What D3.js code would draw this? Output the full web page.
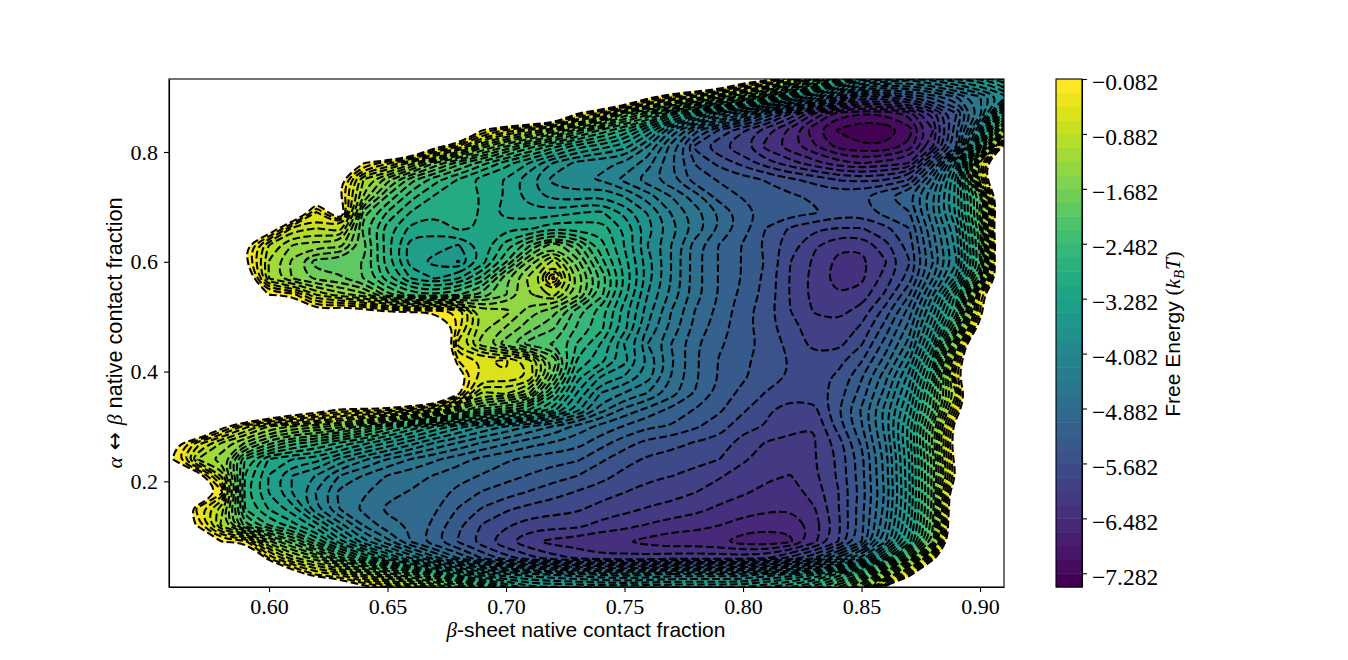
<!DOCTYPE html>
<html>
<head>
<meta charset="utf-8">
<script src="https://cdn.jsdelivr.net/npm/d3@7"></script>
<style>
  html, body { margin: 0; background: #fff; }
  .tick text { font-family: "Liberation Serif", serif; font-size: 22px; fill: #000; }
  .bar-axis .tick text { font-size: 23.5px; }
  .label { font-family: "Liberation Sans", sans-serif; font-size: 21px; fill: #000; }
  .greek { font-family: "Liberation Serif", serif; font-style: italic; }
  .plain { font-family: "Liberation Serif", serif; }
  .arrow { font-family: "DejaVu Sans", sans-serif; }
</style>
</head>
<body>
<svg id="chart" width="1348" height="660"></svg>
<script>
const W = 1348, H = 660;
const LEFT = 169, RIGHT = 1004, TOP = 79, BOTTOM = 587;

const xTicks = [0.60, 0.65, 0.70, 0.75, 0.80, 0.85, 0.90];
const yTicks = [0.2, 0.4, 0.6, 0.8];
const barTicks = [-0.082, -0.882, -1.682, -2.482, -3.282, -4.082, -4.882, -5.682, -6.482, -7.282];

// levels every 0.2 kT, lowest to highest
const levels = d3.range(38).map(k => +(-7.482 + 0.2 * k).toFixed(3));

// grid node positions
const gridX = d3.range(38).map(k => +(0.55 + 0.01 * k).toFixed(2));
const gridY = d3.range(33).map(k => +(0.96 - 0.03 * k).toFixed(2));

// free energy at each node. 1.5 = outside the filled area
const energy = [
[1.5,1.5,1.5,1.5,1.5,1.5,1.5,1.5,1.5,1.5,1.5,1.5,1.5,1.5,1.5,1.5,1.5,1.5,1.5,1.5,1.5,1.5,1.5,1.5,1.5,1.5,1.5,1.5,.5,-.8,-1.8,-2.2,-2.4,-2.4,-2.2,-2,-1.5,-.5],
[1.5,1.5,1.5,1.5,1.5,1.5,1.5,1.5,1.5,1.5,1.5,1.5,1.5,1.5,1.5,1.5,1.5,1.5,1.5,1.5,1.5,1.5,1.5,1.5,1.5,.3,-.1,-1,-2.2,-3.2,-4,-4.2,-4.3,-4.1,-3.8,-3.6,-3.2,-2.2],
[1.5,1.5,1.5,1.5,1.5,1.5,1.5,1.5,1.5,1.5,1.5,1.5,1.5,1.5,1.5,1.5,1.5,1.5,1.5,1.5,1.5,.1,-.45,-.9,-1.6,-2.1,-2.8,-3.6,-4.3,-5.1,-5.8,-5.7,-5.5,-5.2,-4.9,-4.5,-4,-3.2],
[1.5,1.5,1.5,1.5,1.5,1.5,1.5,1.5,1.5,1.5,1.5,1.5,1.5,1.5,1.5,1.5,1.5,1.5,-.08,-.6,-1.7,-2.2,-3,-3.5,-4.2,-4.6,-5.3,-5.9,-6.5,-7,-7.08,-7.05,-6.8,-6.2,-5.5,-4.6,-2.7,-1.5],
[1.5,1.5,1.5,1.5,1.5,1.5,1.5,1.5,1.5,1.5,1.5,1.5,1.5,1.5,-.08,-.5,-.9,-1.3,-2,-2.5,-2.9,-3.5,-4.3,-5,-5.5,-5.85,-6.2,-6.55,-7.05,-7.3,-7.48,-7.42,-7.2,-6.5,-5.3,-3.8,-1.4,1],
[1.5,1.5,1.5,1.5,1.5,1.5,1.5,1.5,1.5,1.5,1.5,1.5,.1,-.5,-1.4,-1.9,-2.4,-2.8,-3.2,-3.4,-3.6,-4.1,-4.8,-5.55,-5.85,-6.05,-6.35,-6.6,-6.85,-7.15,-7.25,-7.25,-7,-6.3,-5.3,-3,.1,1.5],
[1.5,1.5,1.5,1.5,1.5,1.5,1.5,1.5,.5,-.08,-.4,-1,-1.7,-2.2,-2.6,-3,-3.3,-3.7,-3.95,-4.05,-4.1,-4.4,-4.85,-5.3,-5.55,-5.75,-6,-6.2,-6.4,-6.6,-6.7,-6.6,-6.5,-5.4,-4,-.7,1.5,1.5],
[1.5,1.5,1.5,1.5,1.5,1.5,1.5,1.5,0,-1.1,-1.6,-2.2,-2.6,-2.9,-3.2,-3.3,-3.65,-3.95,-4.05,-4.1,-4.35,-4.6,-4.85,-5.2,-5.3,-5.4,-5.5,-5.65,-5.75,-5.9,-5.95,-5.9,-5.7,-4.8,-3.6,-.7,1.5,1.5],
[1.5,1.5,1.5,1.5,1.5,1.5,1.5,.2,-.05,-1.3,-2.1,-2.6,-2.9,-2.95,-3.1,-3.3,-3.6,-3.75,-3.8,-3.7,-3.9,-4.2,-4.5,-4.8,-5.2,-5.3,-5.4,-5.45,-5.52,-5.55,-5.5,-5.3,-5.1,-4.5,-3.6,-2.2,1.2,1.5],
[1.5,1.5,1.5,1.5,1.5,1.5,.8,-.5,.4,-2,-2.5,-2.9,-3.05,-3,-3.1,-3.4,-3.4,-3.4,-3.3,-3.25,-3.55,-3.9,-4.3,-4.6,-4.9,-5.2,-5.35,-5.4,-5.45,-5.58,-5.6,-5.4,-5.3,-4.5,-3.6,-2,1,1.5],
[1.5,1.5,1.5,1.5,1.5,.3,-.8,-.9,-.8,-2.2,-2.8,-3.15,-3.2,-3.05,-3.1,-3.1,-3.1,-2.9,-2.95,-2.95,-3.3,-3.8,-4.2,-4.55,-4.9,-5.2,-5.5,-5.72,-5.85,-5.9,-5.9,-5.75,-5.5,-4.7,-3.9,-2.3,1.5,1.5],
[1.5,1.5,1.5,1,-.05,-.9,-1.3,-1.4,-1.4,-2,-2.8,-3.4,-3.4,-3.5,-3.2,-2.8,-2.3,-1.7,-2.2,-2.8,-3.3,-3.9,-4.3,-4.8,-5.1,-5.3,-5.55,-5.8,-6.05,-6.25,-6.25,-5.95,-5.6,-4.8,-4,-2.4,1.2,1.5],
[1.5,1.5,1.5,1.5,0,-1.1,-1.55,-2,-1.98,-2.1,-2.8,-3.4,-3.55,-3.7,-3.2,-2.5,-1.6,-1,-1.8,-2.6,-3.2,-3.8,-4.3,-4.8,-5.1,-5.3,-5.5,-5.88,-6.12,-6.33,-6.34,-6.1,-5.7,-4.9,-4.1,-2.5,1.5,1.5],
[1.5,1.5,1.5,1.5,.4,-1.1,-1.5,-1.75,-1.85,-2.1,-2.6,-3.1,-3.3,-3.1,-2.6,-1.7,-1.2,-.2,-1.5,-2.3,-3.1,-3.8,-4.3,-4.8,-5.1,-5.3,-5.55,-5.9,-6.15,-6.38,-6.33,-6,-5.6,-4.7,-3.8,-2.1,1,1.5],
[1.5,1.5,1.5,1.5,1.5,-.1,-.15,-.9,-1.2,-1.4,-2,-2.4,-2.45,-2.3,-2,-1.7,-1.3,-1,-1.6,-2.4,-3.2,-3.9,-4.35,-4.8,-5.1,-5.35,-5.55,-5.9,-6.15,-6.28,-6.2,-5.85,-5.3,-4.3,-3,-.4,1.5,1.5],
[1.5,1.5,1.5,1.5,1.5,1.5,1,0,.3,.1,-.1,-.2,-.2,-.3,-1.2,-1.2,-1.6,-1.8,-2.4,-2.8,-3.4,-4,-4.5,-4.9,-5.15,-5.4,-5.6,-5.88,-6.1,-6.15,-6,-5.6,-5,-4,-2.8,-.3,1.5,1.5],
[1.5,1.5,1.5,1.5,1.5,1.5,1.5,1.5,1.5,1.5,1.5,1.5,1.5,-.4,-1.2,-1.5,-1.8,-2.05,-2.5,-2.8,-3.4,-4.1,-4.55,-4.95,-5.2,-5.4,-5.6,-5.8,-6,-6.02,-5.85,-5.4,-4.8,-3.7,-2.2,.2,1.5,1.5],
[1.5,1.5,1.5,1.5,1.5,1.5,1.5,1.5,1.5,1.5,1.5,1.5,1,-.8,-1.4,-1.8,-2.2,-2.3,-2.7,-3.1,-3.7,-4.3,-4.7,-5.05,-5.25,-5.4,-5.55,-5.75,-5.95,-5.95,-5.7,-5.2,-4.6,-3.4,-1.2,1.5,1.5,1.5],
[1.5,1.5,1.5,1.5,1.5,1.5,1.5,1.5,1.5,1.5,1.5,1.5,1.5,-.3,-.5,-.45,-.8,-1.7,-2.9,-3.2,-3.6,-4.1,-4.65,-5.05,-5.3,-5.45,-5.55,-5.7,-5.8,-5.75,-5.5,-5,-4.3,-3,-.6,1.5,1.5,1.5],
[1.5,1.5,1.5,1.5,1.5,1.5,1.5,1.5,1.5,1.5,1.5,1.5,1.5,.2,-.6,-.5,-.7,-2,-3.2,-3.7,-3.9,-4.2,-4.7,-5.05,-5.3,-5.45,-5.6,-5.7,-5.75,-5.65,-5.3,-4.75,-4,-2.7,-.3,1.5,1.5,1.5],
[1.5,1.5,1.5,1.5,1.5,1.5,1.5,1.5,1.5,1.5,1.5,1.5,1.5,0,-1.15,-1.05,-1.5,-2.6,-3.5,-4.1,-4.3,-4.5,-4.8,-5.1,-5.35,-5.55,-5.7,-5.8,-5.78,-5.6,-5.2,-4.6,-3.8,-2.4,-.9,1.5,1.5,1.5],
[1.5,1.5,1.5,1.5,1.5,1,.5,.2,-.15,-.2,-.25,-.6,-.9,-1.7,-2.2,-2.4,-2.7,-3.2,-3.8,-4.4,-4.75,-4.95,-5.15,-5.3,-5.45,-5.65,-5.85,-5.98,-5.95,-5.5,-5.05,-4.4,-3.6,-2.3,-.4,1.5,1.5,1.5],
[1.5,1.5,1.5,.1,-.6,-1.1,-1.3,-1.4,-1.6,-2,-2.5,-2.9,-3.3,-3.6,-3.9,-4.1,-4.3,-4.5,-4.75,-4.95,-5.1,-5.25,-5.3,-5.45,-5.6,-5.8,-5.9,-6.03,-6.08,-5.6,-5.1,-4.4,-3.4,-1.9,.2,1.5,1.5,1.5],
[1.5,.1,-.6,-1.1,-1.5,-2,-2.4,-2.6,-2.9,-3.2,-3.5,-3.8,-4.1,-4.3,-4.5,-4.65,-4.8,-4.9,-5,-5.2,-5.4,-5.55,-5.62,-5.7,-5.75,-5.98,-6.1,-6.13,-6.1,-5.8,-5.25,-4.5,-3.4,-1.8,.3,1.5,1.5,1.5],
[1.5,-.2,-1.1,-1.4,-2.5,-3.1,-3.3,-3.4,-3.75,-4.05,-4.3,-4.5,-4.65,-4.8,-4.95,-5.05,-5.15,-5.2,-5.25,-5.45,-5.6,-5.72,-5.76,-5.82,-5.88,-6.05,-6.18,-6.2,-6.1,-5.85,-5.35,-4.6,-3.5,-2,.2,1.5,1.5,1.5],
[1.5,1.5,.2,-.9,-2.7,-3.3,-3.7,-3.9,-4.3,-4.5,-4.7,-4.8,-4.9,-5,-5.1,-5.2,-5.3,-5.4,-5.48,-5.6,-5.75,-5.83,-5.88,-5.95,-6.06,-6.18,-6.25,-6.29,-6.13,-5.85,-5.35,-4.6,-3.5,-2,-.05,1.5,1.5,1.5],
[1.5,1.5,1,-.2,-2.8,-3.3,-3.7,-4.1,-4.55,-4.65,-4.82,-4.9,-4.98,-5.15,-5.3,-5.4,-5.5,-5.6,-5.7,-5.8,-5.88,-5.96,-6.01,-6.08,-6.18,-6.26,-6.33,-6.38,-6.2,-5.9,-5.4,-4.65,-3.55,-2,.7,1.5,1.5,1.5],
[1.5,.8,-.4,-1,-2.7,-3.1,-3.4,-4.05,-4.5,-4.75,-4.92,-4.95,-5.05,-5.3,-5.5,-5.65,-5.75,-5.8,-5.85,-5.95,-6.02,-6.1,-6.15,-6.22,-6.32,-6.38,-6.44,-6.47,-6.3,-5.9,-5.35,-4.6,-3.5,-2,.8,1.5,1.5,1.5],
[1.5,.4,-.15,-1.15,-2.2,-2.7,-3,-3.4,-4,-4.5,-4.82,-4.9,-5.15,-5.45,-5.7,-5.85,-5.98,-6,-6.02,-6.15,-6.22,-6.3,-6.38,-6.42,-6.48,-6.58,-6.62,-6.64,-6.4,-5.95,-5.35,-4.5,-3.4,-1.9,.9,1.5,1.5,1.5],
[1.5,1.5,1.2,-.1,-.15,-1.4,-2,-2.7,-3.4,-4,-4.4,-4.9,-5.25,-5.5,-5.8,-6.05,-6.25,-6.35,-6.4,-6.48,-6.48,-6.55,-6.62,-6.6,-6.66,-6.78,-6.8,-6.72,-6.35,-5.9,-5.3,-4.3,-3.2,-1.8,1,1.5,1.5,1.5],
[1.5,1.5,1.5,1.5,1.2,-.3,-1,-1.4,-2.2,-2.8,-3.4,-3.9,-4.4,-4.9,-5.3,-5.6,-5.8,-6,-6.1,-6.2,-6.2,-6.2,-6.15,-6.15,-6.15,-6.15,-6.1,-5.8,-5.5,-4.8,-4.2,-3.2,-2,-.3,1.5,1.5,1.5,1.5],
[1.5,1.5,1.5,1.5,1.5,1.5,.3,-.3,-.5,-1.1,-1.7,-2.2,-2.6,-3.2,-3.6,-3.8,-4,-4.1,-4.2,-4.3,-4.4,-4.3,-4.2,-4.2,-4.2,-4.2,-4,-3.8,-3.5,-3,-2.5,-1.2,-.3,1.5,1.5,1.5,1.5,1.5],
[1.5,1.5,1.5,1.5,1.5,1.5,1.5,1.5,1,.4,.2,-.4,-1,-1.5,-1.8,-2.5,-3,-3,-3,-3,-3,-3,-3,-3,-3,-3,-2.8,-2.6,-2.3,-1.8,-1,.5,1.5,1.5,1.5,1.5,1.5,1.5]
];

const svg = d3.select('#chart');

const x = d3.scaleLinear().domain([0.5578, 0.9101]).range([LEFT, RIGHT]);
const y = d3.scaleLinear().domain([0.0075, 0.933]).range([BOTTOM, TOP]);

// d3.contours puts samples at half-integer coords
const gx = d3.scaleLinear().domain([0.5, gridX.length - 0.5]).range([x(gridX[0]), x(gridX[gridX.length - 1])]);
const gy = d3.scaleLinear().domain([0.5, gridY.length - 0.5]).range([y(gridY[0]), y(gridY[gridY.length - 1])]);

const bandColor = d3.scaleSequential(d3.interpolateViridis)
  .domain([levels[0] + 0.1, levels[levels.length - 1] - 0.1]);

// negate so "at least threshold" in d3.contours means "energy below level"
const flat = energy.flat().map(v => -v);
const contours = d3.contours().size([gridX.length, gridY.length]);

const ringLine = d3.line().curve(d3.curveBasisClosed).x(p => gx(p[0])).y(p => gy(p[1]));
const contourPath = level => {
  const c = contours.contour(flat, -level);
  return c.coordinates.map(poly => poly.map(ring => ringLine(ring.slice(0, -1))).join('')).join('');
};

svg.append('clipPath').attr('id', 'plot-clip')
  .append('rect').attr('x', LEFT).attr('y', TOP).attr('width', RIGHT - LEFT).attr('height', BOTTOM - TOP);

const plot = svg.append('g').attr('clip-path', 'url(#plot-clip)');

// filled bands, biggest region first
for (let k = levels.length - 1; k > 0; k--) {
  plot.append('path')
    .attr('d', contourPath(levels[k]))
    .attr('fill', bandColor((levels[k] + levels[k - 1]) / 2))
    .attr('fill-rule', 'evenodd');
}

// dashed contour lines
for (let k = 1; k < levels.length; k++) {
  plot.append('path')
    .attr('d', contourPath(levels[k]))
    .attr('fill', 'none')
    .attr('stroke', '#000')
    .attr('stroke-width', 2.08)
    .attr('stroke-dasharray', '7.7,3.3');
}

const styleAxis = g => {
  g.selectAll('path.domain').attr('stroke', '#000').attr('stroke-width', 1.1);
  g.selectAll('.tick line').attr('stroke', '#000').attr('stroke-width', 1.1);
};

svg.append('g').attr('transform', `translate(0,${BOTTOM})`)
  .call(d3.axisBottom(x).tickValues(xTicks).tickFormat(d3.format('.2f')).tickSize(5).tickPadding(6).tickSizeOuter(0))
  .call(styleAxis);
svg.append('g').attr('transform', `translate(${LEFT},0)`)
  .call(d3.axisLeft(y).tickValues(yTicks).tickFormat(d3.format('.1f')).tickSize(5).tickPadding(6).tickSizeOuter(0))
  .call(styleAxis);

svg.append('rect').attr('x', LEFT).attr('y', TOP).attr('width', RIGHT - LEFT).attr('height', BOTTOM - TOP)
  .attr('fill', 'none').attr('stroke', '#000').attr('stroke-width', 1.1);

// colorbar
const BAR_L = 1056, BAR_R = 1082;
const barY = d3.scaleLinear().domain([levels[0], levels[levels.length - 1]]).range([BOTTOM, TOP]);

svg.append('g').selectAll('rect')
  .data(levels.slice(0, -1))
  .join('rect')
  .attr('x', BAR_L)
  .attr('width', BAR_R - BAR_L)
  .attr('y', d => barY(d + 0.2))
  .attr('height', d => barY(d) - barY(d + 0.2) + 0.5)
  .attr('fill', d => bandColor(d + 0.1));

const barAxis = svg.append('g').attr('class', 'bar-axis').attr('transform', `translate(${BAR_R},0)`)
  .call(d3.axisRight(barY).tickValues(barTicks).tickFormat(d => '\u2212' + Math.abs(d).toFixed(3)).tickSize(5).tickPadding(5).tickSizeOuter(0))
  .call(styleAxis);
barAxis.selectAll('.tick text').attr('dy', '0.46em');

svg.append('rect').attr('x', BAR_L).attr('y', TOP).attr('width', BAR_R - BAR_L).attr('height', BOTTOM - TOP)
  .attr('fill', 'none').attr('stroke', '#000').attr('stroke-width', 1.1);

// axis labels
const xLabel = svg.append('text').attr('class', 'label')
  .attr('x', 586).attr('y', 637).attr('text-anchor', 'middle');
xLabel.append('tspan').attr('class', 'greek').text('\u03b2');
xLabel.append('tspan').text('-sheet native contact fraction');

const yLabel = svg.append('text').attr('class', 'label')
  .attr('transform', 'translate(122,333) rotate(-90)').attr('text-anchor', 'middle').style('font-size', '21.7px');
yLabel.append('tspan').attr('class', 'greek').text('\u03b1');
yLabel.append('tspan').attr('class', 'arrow').text(' \u2194 ');
yLabel.append('tspan').attr('class', 'greek').text('\u03b2');
yLabel.append('tspan').text(' native contact fraction');

const barLabel = svg.append('text').attr('class', 'label')
  .attr('transform', 'translate(1180,334) rotate(-90)').attr('text-anchor', 'middle');
barLabel.append('tspan').text('Free Energy ');
barLabel.append('tspan').attr('class', 'plain').text('(');
barLabel.append('tspan').attr('class', 'greek').text('k');
barLabel.append('tspan').attr('class', 'greek').attr('dy', 4).style('font-size', '15px').text('B');
barLabel.append('tspan').attr('class', 'greek').attr('dy', -4).text('T');
barLabel.append('tspan').attr('class', 'plain').text(')');
</script>
</body>
</html>
